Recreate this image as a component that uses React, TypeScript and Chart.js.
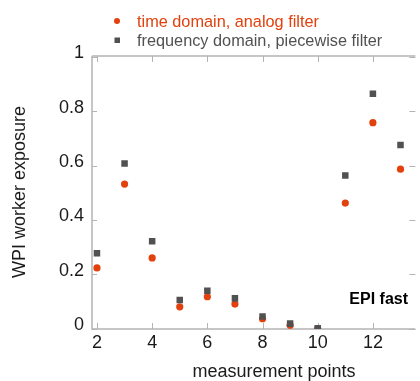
import React, { useEffect, useRef } from "react";
import { Chart, registerables } from "chart.js";
Chart.register(...registerables);

const measurementPoints = [2, 3, 4, 5, 6, 7, 8, 9, 10, 11, 12, 13];
const timeDomainAnalog = [0.223, 0.532, 0.26, 0.08, 0.117, 0.09, 0.036, 0.012, 0.0, 0.462, 0.758, 0.587];
const freqDomainPiecewise = [0.277, 0.608, 0.321, 0.105, 0.139, 0.111, 0.044, 0.018, 0.001, 0.564, 0.865, 0.676];
const xTickValues = [2, 4, 6, 8, 10, 12];
const xTickLabels = ["2", "4", "6", "8", "10", "12"];
const yTickValues = [0, 0.2, 0.4, 0.6, 0.8, 1];
const yTickLabels = ["0", "0.2", "0.4", "0.6", "0.8", "1"];
const seriesNames = ["time domain, analog filter", "frequency domain, piecewise filter"];
const xTitle = "measurement points";
const yTitle = "WPI worker exposure";
const annotationText = "EPI fast";

const RED = "#e2400c";
const GRAY = "#515151";
const FRAME = "#b4b4b4";
const FONT = "'Liberation Sans', Arial, sans-serif";

const decorPlugin = {
  id: "decor",
  beforeDatasetsDraw(chart: any) {
    const { ctx, chartArea } = chart;
    const { left, top, right, bottom } = chartArea;
    const xs = chart.scales.x;
    const ys = chart.scales.y;
    ctx.save();
    ctx.strokeStyle = FRAME;
    ctx.lineWidth = 1.5;
    ctx.beginPath();
    ctx.moveTo(left, top);
    ctx.lineTo(right, top);
    ctx.moveTo(left, top);
    ctx.lineTo(left, bottom);
    ctx.lineTo(right, bottom);
    ctx.stroke();
    ctx.lineWidth = 1;
    ctx.beginPath();
    xTickValues.forEach((v) => {
      const px = Math.round(xs.getPixelForValue(v)) + 0.5;
      ctx.moveTo(px, top);
      ctx.lineTo(px, top + 6);
      ctx.moveTo(px, bottom);
      ctx.lineTo(px, bottom - 6);
    });
    yTickValues.forEach((v) => {
      const py = Math.round(ys.getPixelForValue(v)) + 0.5;
      ctx.moveTo(left, py);
      ctx.lineTo(left + 5, py);
      ctx.moveTo(right, py);
      ctx.lineTo(right - 6, py);
    });
    ctx.stroke();
    ctx.restore();
  },
  afterDraw(chart: any) {
    const { ctx, chartArea } = chart;
    const { left, bottom } = chartArea;
    const xs = chart.scales.x;
    const ys = chart.scales.y;
    ctx.save();
    ctx.fillStyle = "#1a1a1a";
    ctx.font = `18px ${FONT}`;
    ctx.textAlign = "right";
    ctx.textBaseline = "middle";
    yTickValues.forEach((v, i) => {
      ctx.fillText(yTickLabels[i], left - 8, ys.getPixelForValue(v) - 3.5);
    });
    ctx.textAlign = "center";
    ctx.textBaseline = "alphabetic";
    xTickValues.forEach((v, i) => {
      ctx.fillText(xTickLabels[i], xs.getPixelForValue(v), bottom + 19);
    });
    ctx.fillText(xTitle, 274, 377);
    ctx.save();
    ctx.translate(25, 192);
    ctx.rotate(-Math.PI / 2);
    ctx.textAlign = "center";
    ctx.fillText(yTitle, 0, 0);
    ctx.restore();

    ctx.font = `bold 16px ${FONT}`;
    ctx.textAlign = "right";
    ctx.fillStyle = "#000";
    ctx.fillText(annotationText, 408, 304);

    // legend
    ctx.font = `16.3px ${FONT}`;
    ctx.textAlign = "left";
    ctx.fillStyle = RED;
    ctx.beginPath();
    ctx.arc(117, 21, 3, 0, Math.PI * 2);
    ctx.fill();
    ctx.fillText(seriesNames[0], 137, 26.5);
    ctx.fillStyle = GRAY;
    ctx.fillRect(114.5, 37.5, 5.5, 5.5);
    ctx.fillText(seriesNames[1], 137, 45.5);
    ctx.restore();
  },
};

export default function App() {
  const ref = useRef<HTMLCanvasElement | null>(null);
  useEffect(() => {
    if (!ref.current) return;
    const chart = new Chart(ref.current, {
      type: "scatter",
      data: {
        datasets: [
          {
            label: seriesNames[0],
            data: measurementPoints.map((x, i) => ({ x, y: timeDomainAnalog[i] })),
            pointStyle: "circle",
            pointRadius: 3.6,
            backgroundColor: RED,
            borderColor: RED,
            borderWidth: 0,
            order: 2,
          },
          {
            label: seriesNames[1],
            data: measurementPoints.map((x, i) => ({ x, y: freqDomainPiecewise[i] })),
            pointStyle: "rect",
            pointRadius: 4.6,
            backgroundColor: GRAY,
            borderColor: GRAY,
            borderWidth: 0,
            order: 1,
          },
        ],
      },
      options: {
        animation: false,
        responsive: false,
        devicePixelRatio: 1,
        layout: { padding: { left: 92, top: 56, right: 0, bottom: 52 } },
        plugins: { legend: { display: false }, tooltip: { enabled: false } },
        scales: {
          x: { type: "linear", display: false, min: 1.82, max: 13.54 },
          y: { type: "linear", display: false, min: -0.0018, max: 1.0037 },
        },
      },
      plugins: [decorPlugin],
    });
    return () => chart.destroy();
  }, []);
  return (
    <div style={{ position: "fixed", left: 0, top: 0, width: 420, height: 381, background: "#fff" }}>
      <canvas ref={ref} width={420} height={381} />
    </div>
  );
}
